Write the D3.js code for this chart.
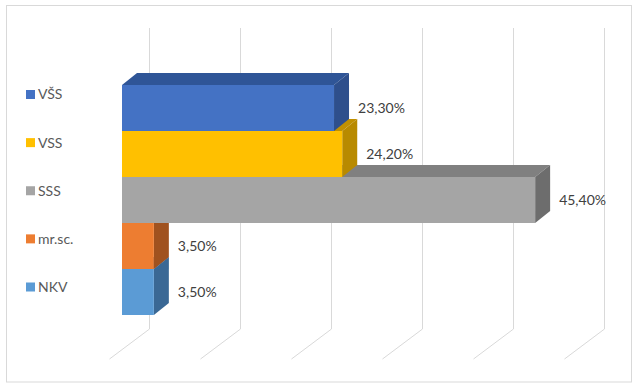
<!DOCTYPE html>
<html>
<head>
<meta charset="utf-8">
<script src="https://cdn.jsdelivr.net/npm/d3@7"></script>
<style>
  body { margin: 0; background: #fff; }
  text { font-family: Lato, "Open Sans", sans-serif; }
</style>
</head>
<body>
<div class="chart"></div>
<script>
// data
const categories = ['VŠS', 'VSS', 'SSS', 'mr.sc.', 'NKV'];
const values = [0.233, 0.242, 0.454, 0.035, 0.035];
const labels = ['23,30%', '24,20%', '45,40%', '3,50%', '3,50%'];
const ticks = [0, 0.1, 0.2, 0.3, 0.4, 0.5];

const frontColors = ['#4472C4', '#FFC000', '#A5A5A5', '#ED7D31', '#5B9BD5'];
const topColors = ['#2F5597', '#C09000', '#808080', '#B05A22', '#3C6E9E'];
const sideColors = ['#2E4F8C', '#B88A00', '#6D6D6D', '#A0521F', '#3A6895'];

const W = 638, H = 386;
const depth = { dx: 15, dy: -12 };   // bar depth offset
const floor = { dx: -40, dy: 30 };   // floor gridline offset

const svg = d3.select('.chart').append('svg')
    .attr('width', W)
    .attr('height', H);

// chart border
svg.append('rect')
    .attr('x', 6.5).attr('y', 5.5)
    .attr('width', 625).attr('height', 376.5)
    .attr('fill', '#fff')
    .attr('stroke', '#D9D9D9');

// back wall scale and front face scale
const xBack = d3.scaleLinear().domain([0, 0.5]).range([149, 604]);
const xFront = d3.scaleLinear().domain([0, 0.5]).range([122, 577]);
const y = d3.scaleBand().domain(categories).range([85, 315]).padding(0);

// 3D gridlines: back wall vertical + floor diagonal
const gridTop = 28, gridBottom = 329;
svg.append('g')
    .selectAll('path')
    .data(ticks)
    .join('path')
    .attr('d', d => {
        const x = Math.round(xBack(d)) + 0.5;
        return `M${x},${gridTop}V${gridBottom}l${floor.dx},${floor.dy}`;
    })
    .attr('fill', 'none')
    .attr('stroke', '#D9D9D9')
    .attr('stroke-width', 1);

// bars: draw bottom one first so upper bars cover the faces below
const rows = categories.map((c, i) => ({ c, v: values[i], i })).reverse();

const bar = svg.append('g')
    .selectAll('g')
    .data(rows)
    .join('g');

// top face
bar.append('path')
    .attr('d', d => {
        const x0 = xFront(0), x1 = xFront(d.v), y0 = y(d.c);
        return `M${x0},${y0}L${x1},${y0}l${depth.dx},${depth.dy}L${x0 + depth.dx},${y0 + depth.dy}Z`;
    })
    .attr('fill', d => topColors[d.i]);

// side face
bar.append('path')
    .attr('d', d => {
        const x1 = xFront(d.v), y0 = y(d.c), y1 = y0 + y.bandwidth();
        return `M${x1},${y0}L${x1},${y1}l${depth.dx},${depth.dy}L${x1 + depth.dx},${y0 + depth.dy}Z`;
    })
    .attr('fill', d => sideColors[d.i]);

// front face
bar.append('rect')
    .attr('x', xFront(0))
    .attr('y', d => y(d.c))
    .attr('width', d => xFront(d.v) - xFront(0))
    .attr('height', y.bandwidth())
    .attr('fill', d => frontColors[d.i]);

// data labels
svg.append('g')
    .selectAll('text')
    .data(rows)
    .join('text')
    .attr('x', d => xFront(d.v) + 24)
    .attr('y', d => y(d.c) + y.bandwidth() / 2)
    .attr('dy', '0.35em')
    .attr('fill', '#404040')
    .style('font-size', '14px')
    .text(d => labels[d.i]);

// legend
const legY = d3.scalePoint().domain(categories).range([94.5, 287]);
const leg = svg.append('g')
    .selectAll('g')
    .data(categories)
    .join('g')
    .attr('transform', d => `translate(26,${legY(d)})`);

leg.append('rect')
    .attr('x', 0).attr('y', -4.5)
    .attr('width', 9).attr('height', 9)
    .attr('fill', (d, i) => frontColors[i]);

leg.append('text')
    .attr('x', 12)
    .attr('dy', '0.35em')
    .attr('fill', '#595959')
    .style('font-size', '14px')
    .text(d => d);
</script>
</body>
</html>
